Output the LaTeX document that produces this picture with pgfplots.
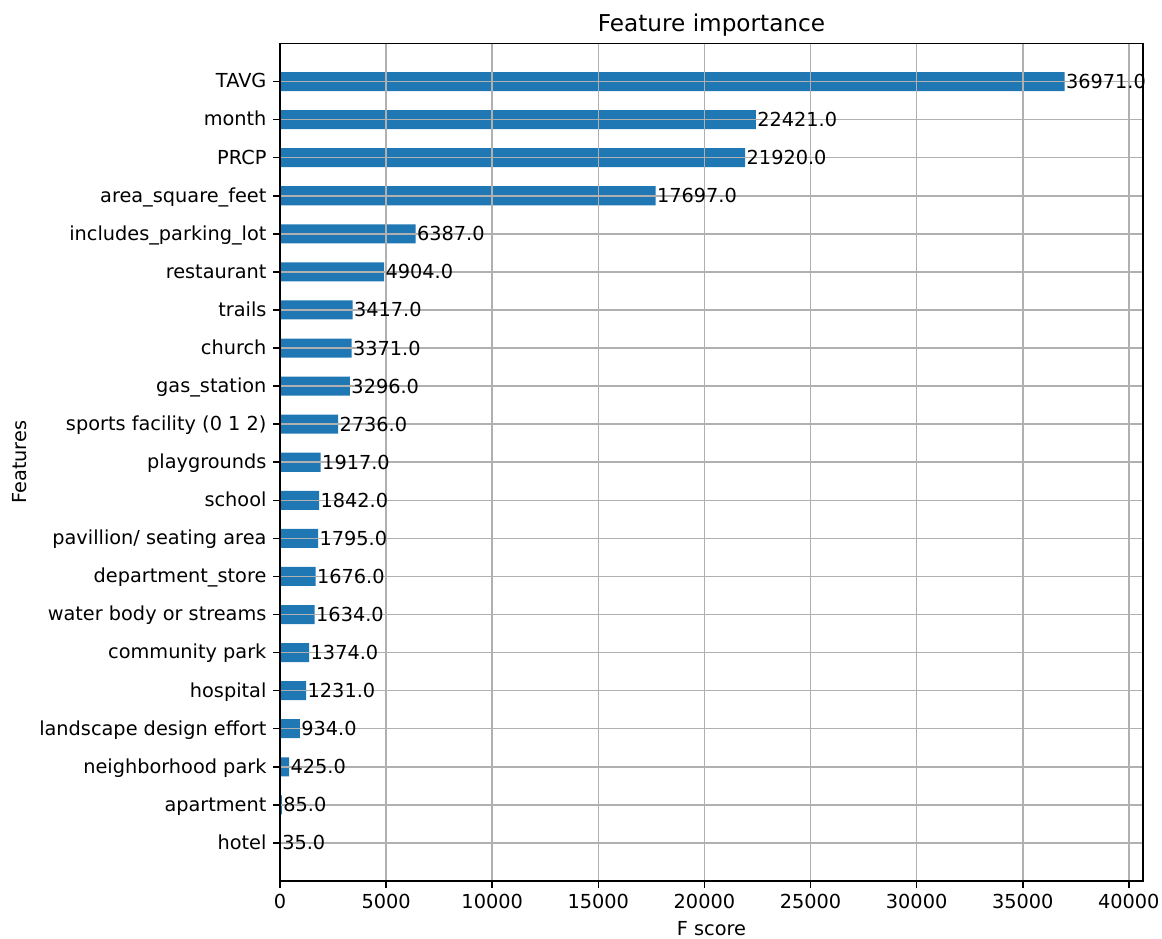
\documentclass[border=0pt]{standalone}
\usepackage{fontspec}
\setmainfont{DejaVu Sans}
\usepackage{pgfplots}
\pgfplotsset{compat=1.18}
\definecolor{barblue}{HTML}{1F77B4}
\definecolor{gridgray}{HTML}{B0B0B0}
\begin{document}
\fontsize{10}{12}\selectfont
\begin{tikzpicture}
\useasboundingbox (-145.04pt,-29.53pt) rectangle (456.87pt,456.36pt);
\begin{axis}[
  at={(0pt,0pt)}, anchor=south west,
  scale only axis, width=447.03pt, height=433.83pt,
  xbar, bar width=0.5,
  xmin=0, xmax=40668.1, ymin=-1, ymax=21,
  xtick={0,5000,...,40000},
  ytick={0,...,20},
  yticklabels={hotel,apartment,neighborhood park,landscape design effort,hospital,community park,water body or streams,department\_store,pavillion/ seating area,school,playgrounds,sports facility (0 1 2),gas\_station,church,trails,restaurant,includes\_parking\_lot,area\_square\_feet,PRCP,month,TAVG},
  scaled ticks=false,
  /pgf/number format/assume math mode=true,
  xticklabel style={/pgf/number format/1000 sep={}},
  tick align=outside, tick pos=left,
  major tick length=3.5pt,
  every tick/.style={black, line width=0.8pt},
  axis line style={black, line width=0.8pt},
  grid=major,
  major grid style={gridgray, line width=0.8pt},
  axis on top,
  ticklabel style={font=\fontsize{10}{12}\selectfont, text=black},
  yticklabel style={anchor=base east, yshift=-3.3pt},
  every axis title shift=0pt,
  title={Feature importance},
  title style={font=\fontsize{12}{14}\selectfont, at={(axis description cs:0.5,1.01385)}, anchor=base},
  xlabel={F score},
  xlabel style={font=\fontsize{10}{12}\selectfont, at={(axis description cs:0.5,-0.0565)}, anchor=center},
  ylabel={Features},
  ylabel style={font=\fontsize{10}{12}\selectfont, at={(axis description cs:-0.3013,0.5)}, anchor=center, rotate=0},
  point meta=x,
  nodes near coords={\pgfmathprintnumber[fixed,fixed zerofill,precision=1,1000 sep={}]{\pgfplotspointmeta}},
  nodes near coords style={anchor=west, inner xsep=0.6pt, inner ysep=0pt, font=\fontsize{10}{12}\selectfont, text=black},
]
\addplot[fill=barblue, draw=none] coordinates {
(35,0) (85,1) (425,2) (934,3) (1231,4) (1374,5) (1634,6) (1676,7) (1795,8) (1842,9) (1917,10) (2736,11) (3296,12) (3371,13) (3417,14) (4904,15) (6387,16) (17697,17) (21920,18) (22421,19) (36971,20)
};
\end{axis}
\end{tikzpicture}
\end{document}
